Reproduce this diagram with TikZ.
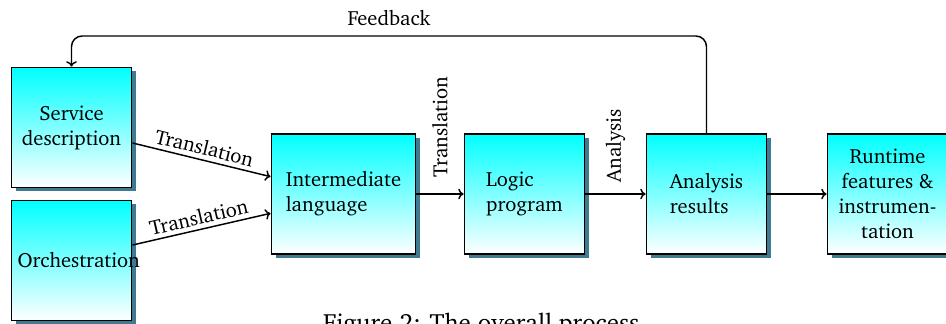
\documentclass[tikz,border=0pt]{standalone}
\usepackage[T1]{fontenc}
\usepackage{charter}
\usetikzlibrary{shadows,arrows.meta}
\definecolor{shadowcol}{RGB}{64,122,145}
\tikzset{
  txt/.style={font=\fontsize{15.4}{18.75}\selectfont},
  procbox/.style={txt, draw=black, line width=1.4pt, top color=cyan, bottom color=white,
    minimum width=90pt, minimum height=90pt, inner sep=2pt,
    drop shadow={shadow xshift=3pt, shadow yshift=-3pt, fill=shadowcol, opacity=1}},
  flow/.style={line width=1.1pt, -{To[length=4pt,width=8pt]}},
  lbl/.style={txt, inner sep=3pt}
}
\begin{document}
\begin{tikzpicture}[x=0.75pt, y=-0.75pt]
\useasboundingbox (0,0) rectangle (946,324);
\node[procbox, align=center] (svc) at (71.5,127.5) {Service\\description};
\node[procbox, align=center, text width=81pt, inner sep=4.5pt] (orch) at (71.5,260.5) {Orchestration};
\node[procbox, align=left, minimum width=108pt] (inter) at (343.5,194) {Intermediate\\language};
\node[procbox, align=left] (logic) at (524.5,194) {Logic\\program};
\node[procbox, align=left] (anres) at (706.5,194) {Analysis\\results};
\node[procbox, align=center] (rt) at (887.5,194) {Runtime\\features \&\\instrumen-\\tation};
\coordinate (fb) at (0,36);
\draw[flow] ([yshift=-11.6pt]svc.east) -- node[lbl, above, sloped] {Translation} ([yshift=13pt]inter.west);
\draw[flow] ([yshift=11.6pt]orch.east) -- node[lbl, above, sloped] {Translation} ([yshift=-14.5pt]inter.west);
\draw[flow] (inter.east) -- node[txt, rotate=90, anchor=west, inner xsep=12pt] {Translation} (logic.west);
\draw[flow] (logic.east) -- node[txt, rotate=90, anchor=west, inner xsep=8pt] {Analysis} (anres.west);
\draw[flow] (anres.east) -- (rt.west);
\draw[flow, rounded corners=8pt] (anres.north) -- (anres.north |- fb) -- node[txt, above, inner sep=7pt] {Feedback} (svc.north |- fb) -- (svc.north);
\node[font=\fontsize{18.7}{22}\selectfont, anchor=base] (cap) at (481,331.5) {Figure 2: The overall process};
\end{tikzpicture}
\end{document}
